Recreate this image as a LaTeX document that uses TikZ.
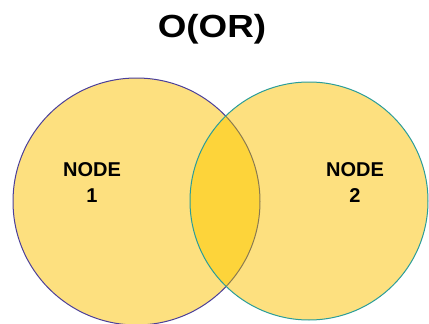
\documentclass[tikz,border=0pt]{standalone}
\usepackage{fontspec}
\setmainfont{Liberation Sans}
\definecolor{lighty}{HTML}{FDE07F}
\definecolor{darky}{HTML}{FDD43A}
\definecolor{purp}{HTML}{4B3F9A}
\definecolor{teal2}{HTML}{2A9D9A}
\definecolor{lensline}{HTML}{8A7A50}
\tikzset{lbl/.style={font=\bfseries\fontsize{20}{26}\selectfont, align=center, text=black, inner sep=0pt}}
\begin{document}
\begin{tikzpicture}[x=1pt,y=-1pt]
\useasboundingbox (0,0) rectangle (429,324);
\fill[lighty] (136.5,201.5) circle (123.5);
\draw[purp, line width=1pt] (136.5,201.5) circle (123.5);
\fill[lighty] (309,201) circle (119);
\begin{scope}
\clip (136.5,201.5) circle (123.5);
\fill[darky] (309,201) circle (119);
\end{scope}
\begin{scope}
\clip (309,201) circle (119);
\draw[lensline, line width=1pt] (136.5,201.5) circle (123.5);
\end{scope}
\draw[teal2, line width=1pt] (309,201) circle (119);
\node[lbl] (n1) at (92,183) {NODE\\1};
\node[lbl] (n2) at (355,183) {NODE\\2};
\node[font=\bfseries\fontsize{32}{38}\selectfont, inner sep=0pt, xscale=1.15] (t) at (212,29) {O(OR)};
\end{tikzpicture}
\end{document}
